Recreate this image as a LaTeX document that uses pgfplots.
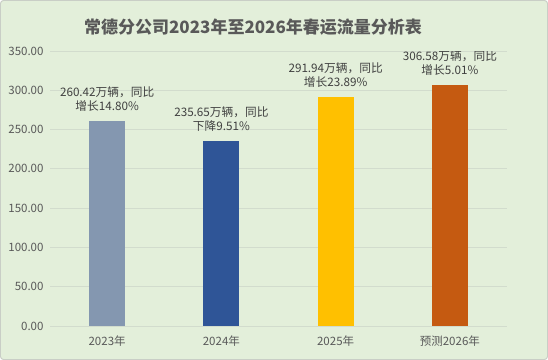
\documentclass[border=0pt]{standalone}
\usepackage{fontspec}
\setmainfont{Noto Sans CJK SC}
\usepackage{pgfplots}
\pgfplotsset{compat=1.18}
\definecolor{bg}{HTML}{E3EFDA}
\definecolor{bordc}{HTML}{C9CEC6}
\definecolor{gridc}{HTML}{D2DCCD}
\definecolor{txt}{HTML}{595959}
\definecolor{lbl}{HTML}{404040}
\definecolor{c23}{HTML}{8497B0}
\definecolor{c24}{HTML}{2F5597}
\definecolor{c25}{HTML}{FFC000}
\definecolor{c26}{HTML}{C55A11}
\begin{document}
\begin{tikzpicture}
\fill[bg, draw=bordc, line width=1bp, rounded corners=3bp] (-49.5bp,-33.5bp) rectangle (497.5bp,325.5bp);
\begin{axis}[
  at={(0,0)}, anchor=south west,
  scale only axis, width=457bp, height=275bp,
  xmin=-0.5, xmax=3.5, ymin=0, ymax=350,
  ytick={0,50,...,350},
  xtick={0,1,2,3},
  xticklabels={2023年,2024年,2025年,预测2026年},
  ymajorgrids, grid style={gridc, line width=0.8bp},
  axis x line*=bottom, axis y line*=left,
  x axis line style={gridc, line width=1bp, -},
  y axis line style={draw=none},
  major tick length=0pt,
  tick label style={font=\fontsize{11.5bp}{13bp}\selectfont, text=txt},
  yticklabel style={xshift=-3bp},
  xticklabel style={yshift=-6bp},
  /pgf/number format/.cd, fixed, fixed zerofill, precision=2, assume math mode=true,
]
\addplot[ybar, bar width=36bp, fill=c23, draw=none] coordinates {(0,260.42)};
\addplot[ybar, bar width=36bp, fill=c24, draw=none] coordinates {(1,235.65)};
\addplot[ybar, bar width=36bp, fill=c25, draw=none] coordinates {(2,291.94)};
\addplot[ybar, bar width=36bp, fill=c26, draw=none] coordinates {(3,306.58)};
\tikzset{lab/.style={anchor=south, align=center, inner sep=0pt, yshift=9.5bp, text=lbl, font=\fontsize{11.7bp}{14bp}\selectfont}}
\node[lab] at (axis cs:0,260.42) {260.42万辆，同比\\增长14.80\%};
\node[lab] at (axis cs:1,235.65) {235.65万辆，同比\\下降9.51\%};
\node[lab] at (axis cs:2,291.94) {291.94万辆，同比\\增长23.89\%};
\node[lab] at (axis cs:3,306.58) {306.58万辆，同比\\增长5.01\%};
\end{axis}
\node[font=\bfseries\fontsize{17bp}{20bp}\selectfont, text=txt] at (203bp,299bp) {常德分公司2023年至2026年春运流量分析表};
\end{tikzpicture}
\end{document}
